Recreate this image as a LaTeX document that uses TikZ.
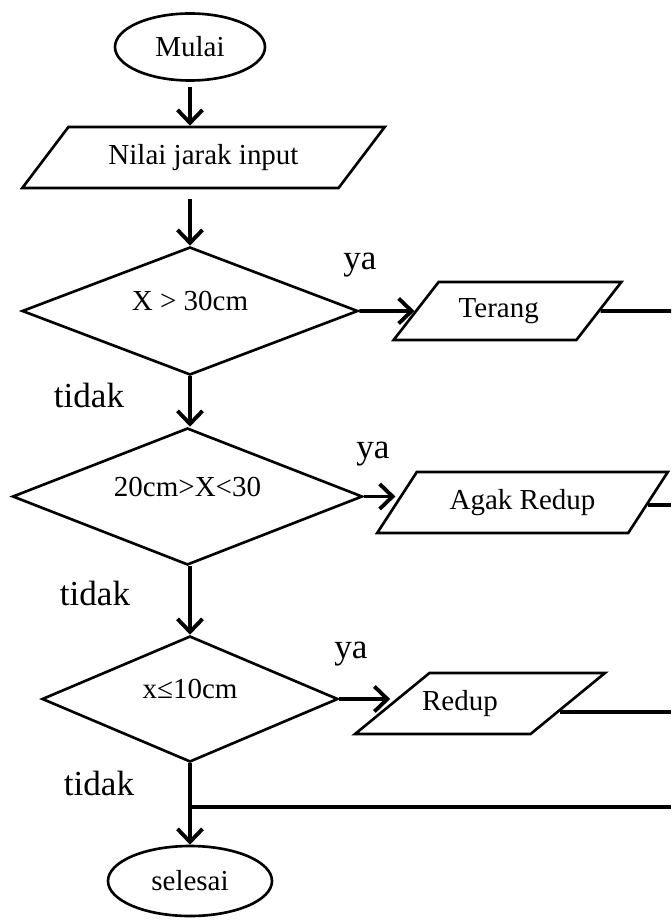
\documentclass[tikz,border=0pt]{standalone}
\usepackage{fontspec}
\setmainfont{Liberation Serif}
\usetikzlibrary{shapes.geometric, positioning, arrows.meta}

\begin{document}
\begin{tikzpicture}[every node/.style={font=\fontsize{16.5}{19}\selectfont},
	box/.style={draw, line width=1.5pt, inner sep=0pt},
	term/.style={box, ellipse},
	io/.style={box, trapezium, trapezium stretches=true},
	cond/.style={box, diamond, aspect=2.6, text depth=0.4cm},
	lbl/.style={font=\fontsize{20}{23}\selectfont},
	arr/.style={line width=2.2pt, -{Straight Barb[length=0.26cm,width=0.5cm]}},
	line/.style={line width=2.2pt}]

	\useasboundingbox (0,0) rectangle (13.42,-18.4);

	% Start and input
	\node[term, minimum width=3cm, minimum height=1.34cm] (mulai) at (3.8,-0.94) {Mulai};
	\node[io, trapezium left angle=39, trapezium right angle=141, minimum width=7.26cm, minimum height=1.22cm] (input) at (4.07,-3.15) {Nilai jarak input};

	% Conditions
	\node[cond, minimum width=6.72cm, minimum height=2.56cm] (cek1) at (3.8,-6.22) {X > 30cm};
	\node[cond, minimum width=7cm, minimum height=2.74cm] (cek2) at (3.75,-9.93) {20cm>X<30};
	\node[cond, minimum width=5.92cm, minimum height=2.52cm] (cek3) at (3.8,-13.98) {x≤10cm};

	% Outputs
	\node[io, trapezium left angle=51, trapezium right angle=129, minimum width=4.58cm, minimum height=1.16cm] (terang) at (10.15,-6.22) {\hspace*{-0.35cm}Terang};
	\node[io, trapezium left angle=44, trapezium right angle=136, minimum width=5.82cm, minimum height=1.22cm] (agak) at (10.45,-10.05) {Agak Redup};
	\node[io, trapezium left angle=45, trapezium right angle=135, minimum width=5cm, minimum height=1.22cm] (redup) at (9.6,-14.07) {\hspace*{-0.8cm}Redup};

	% End
	\node[term, minimum width=3.28cm, minimum height=1.4cm] (selesai) at (3.8,-17.62) {selesai};

	% Labels
	\node[lbl] (ya1) at (7.2,-5.3) {ya};
	\node[lbl] (tidak1) at (1.78,-7.9) {tidak};
	\node[lbl] (ya2) at (7.46,-9.08) {ya};
	\node[lbl] (tidak2) at (1.9,-11.86) {tidak};
	\node[lbl] (ya3) at (7.02,-13.08) {ya};
	\node[lbl] (tidak3) at (1.98,-15.66) {tidak};

	% Free ends at the right border
	\coordinate (t1) at (13.42,-6.22);
	\coordinate (a1) at (13.42,-10.1);
	\coordinate (r1) at (13.42,-14.26);
	\coordinate (j) at (3.8,-16.14);
	\coordinate (j1) at (13.42,-16.14);

	% Edges
	\draw[arr, shorten <=0.1cm] (mulai) -- (input.north -| mulai);
	\draw[arr, shorten <=0.2cm] (input.south -| cek1.north) -- (cek1.north);
	\draw[arr] (cek1) -- (terang);
	\draw[line] (terang) -- (t1);
	\draw[arr] (cek1) -- (cek1 |- cek2.north);
	\draw[arr] (cek2.east) -- (cek2.east -| agak.west);
	\draw[line] (agak.-1) -- (agak.-1 -| a1);
	\draw[arr] (cek2.south -| cek1) -- (cek1 |- cek3.north);
	\draw[arr] (cek3.east) -- (cek3.east -| redup.west);
	\draw[line] (redup.-6) -- (redup.-6 -| r1);
	\draw[arr] (cek3) -- (selesai);
	\draw[line] (j) -- (j1);

\end{tikzpicture}
\end{document}
